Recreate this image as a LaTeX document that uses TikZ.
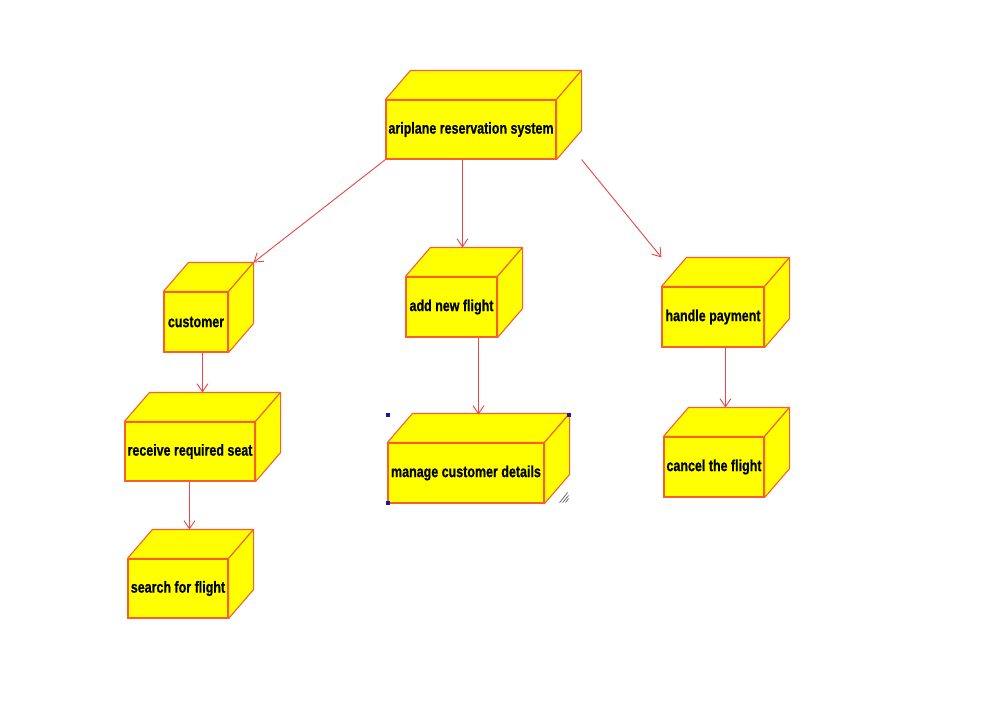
\documentclass[tikz,border=0pt]{standalone}
\usepackage{fontspec}
\newfontfamily\lblfont[FakeStretch=0.78,FakeBold=0.6]{Liberation Sans}
\usetikzlibrary{arrows.meta,calc}
\definecolor{boxfill}{HTML}{FFFF00}
\definecolor{boxline}{HTML}{F5602E}
\definecolor{arrline}{HTML}{E84545}
\definecolor{handle}{HTML}{1A1AA0}
\tikzset{
  front/.style={draw=boxline, fill=boxfill, line width=1.1pt, inner sep=0pt,
    font=\lblfont\bfseries\fontsize{16}{17}\selectfont},
  face/.style={draw=boxline, fill=boxfill, line width=1.1pt, line join=round},
  arr/.style={draw=arrline, line width=0.9pt, -{Straight Barb[length=8pt,width=11pt]}},
  selhandle/.style={fill=handle, draw=none},
  grip/.style={draw=gray!70!black, line width=0.7pt}
}
\newcommand\cubebox[6]{%
  \pgfmathsetmacro\cbw{(#4)-(#2)}%
  \pgfmathsetmacro\cbh{(#5)-(#3)}%
  \pgfmathsetmacro\cbx{((#2)+(#4))/2}%
  \pgfmathsetmacro\cby{((#3)+(#5))/2}%
  \node[front, minimum width=\cbw pt, minimum height=\cbh pt] (#1)
    at (\cbx,\cby) {#6};
  \draw[face] (#1.north west) -- ++(25,-29) -- ($(#1.north east)+(25,-29)$) -- (#1.north east) -- cycle;
  \draw[face] (#1.north east) -- ++(25,-29) -- ($(#1.south east)+(25,-29)$) -- (#1.south east) -- cycle;
}
\begin{document}
\begin{tikzpicture}[x=1pt,y=-1pt]
\useasboundingbox[fill=white] (0,0) rectangle (1006,712);

\cubebox{sys}{386}{100}{556}{159}{ariplane reservation system}
\cubebox{cust}{164}{292}{228}{352}{customer}
\cubebox{add}{406}{277}{497}{337}{add new flight}
\cubebox{pay}{662}{287}{764}{347}{handle payment}
\cubebox{recv}{125}{422}{255}{481}{receive required seat}
\cubebox{search}{128}{559}{228}{618}{search for flight}
\cubebox{manage}{388}{443}{544}{503}{manage customer details}
\cubebox{cancel}{664}{437}{764}{497}{cancel the flight}

% connectors
\draw[arr] (sys.south west) -- ($(cust.north east)+(25,-29)$);
\draw[arr] ($(sys.south west)+(77,0)$) -- ($(add.north west)+(57,-29)$);
\draw[arr] ($(sys.south east)+(25,0)$) -- ($(pay.north west)+(0,-29)$);
\draw[arr] ($(cust.south west)+(39,0)$) -- ($(recv.north west)+(78,-29)$);
\draw[arr] ($(recv.south west)+(65,0)$) -- ($(search.north west)+(62,-29)$);
\draw[arr] ($(add.south west)+(73,0)$) -- ($(manage.north west)+(91,-28)$);
\draw[arr] ($(pay.south west)+(64,0)$) -- ($(cancel.north west)+(62,-29)$);

% selection handles on the selected node
\fill[selhandle] ($(manage.north west)+(-1.5,-29.5)$) rectangle ++(4,4);
\fill[selhandle] ($(manage.north east)+(22.5,-29.5)$) rectangle ++(4,4);
\fill[selhandle] ($(manage.south west)+(-1.5,-3)$) rectangle ++(4,4);
\draw[grip] ($(manage.south east)+(15,-1)$) -- ++(8,-10);
\draw[grip] ($(manage.south east)+(18,-1)$) -- ++(6,-7);
\draw[grip] ($(manage.south east)+(21,-1)$) -- ++(3,-4);
\end{tikzpicture}
\end{document}
